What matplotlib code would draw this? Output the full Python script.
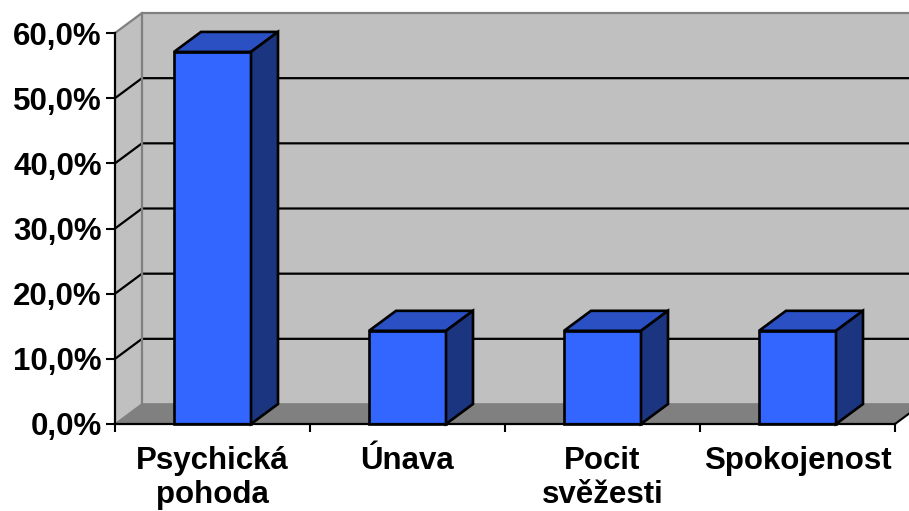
import numpy as np
import matplotlib
matplotlib.use('Agg')
import matplotlib.pyplot as plt
from matplotlib.patches import Polygon
from matplotlib.ticker import FuncFormatter

plt.rcParams['font.family'] = ['Liberation Sans', 'DejaVu Sans']
plt.rcParams['font.weight'] = 'bold'

kategorie = ['Psychická\npohoda', 'Únava', 'Pocit\nsvěžesti', 'Spokojenost']
hodnoty = [57.1, 14.3, 14.3, 14.3]          # procenta
y_ticky = [0, 10, 20, 30, 40, 50, 60]

# barvy ve stylu starého Excelu
c_predek = '#3366FF'
c_vrch = '#2A50C4'
c_bok = '#1C3580'
c_stena = '#C0C0C0'
c_podlaha = '#808080'
c_hrana = '#808080'

W, H = 909, 511
fig = plt.figure(figsize=(W / 100, H / 100), dpi=100)
x0, x1, y0, y1 = 115, 895, 424, 33
ax = fig.add_axes([x0 / W, 1 - y0 / H, (x1 - x0) / W, (y0 - y1) / H])
ax.set_xlim(0, 4)
ax.set_ylim(0, 60)
ax.patch.set_visible(False)

# hloubka 3D efektu v datovych jednotkach
dx = 27 / ((x1 - x0) / 4)
dy = 20 / ((y0 - y1) / 60)
xr = 4.5   # zadni stena jde az za okraj obrazku

# leva bocni stena
ax.add_patch(Polygon([(0, 0), (0, 60), (dx, 60 + dy), (dx, dy)], closed=True,
                     facecolor=c_stena, edgecolor='none', zorder=0.5, clip_on=False))
# zadni stena
ax.add_patch(Polygon([(dx, dy), (dx, 60 + dy), (xr, 60 + dy), (xr, dy)], closed=True,
                     facecolor=c_stena, edgecolor='none', zorder=0.5, clip_on=False))
# podlaha
ax.add_patch(Polygon([(0, 0), (4, 0), (4 + dx, dy), (dx, dy)], closed=True,
                     facecolor=c_podlaha, edgecolor='none', zorder=0.6, clip_on=False))

# mrizka na stenach
for v in y_ticky[1:-1]:
    ax.plot([0, dx, xr], [v, v + dy, v + dy], color='black', lw=1.6,
            zorder=1, clip_on=False, solid_capstyle='butt')

# hrany sten
ax.plot([0, dx, xr], [60, 60 + dy, 60 + dy], color=c_hrana, lw=1.6, zorder=1, clip_on=False)
ax.plot([dx, dx], [dy, 60 + dy], color=c_hrana, lw=1.6, zorder=1, clip_on=False)
ax.plot([0, dx, xr], [0, dy, dy], color=c_hrana, lw=1.2, zorder=1, clip_on=False)
ax.plot([4, 4 + dx], [0, dy], color='black', lw=1.5, zorder=1, clip_on=False)

# sloupce
sirka = 77 / ((x1 - x0) / 4)
for i, v in enumerate(hodnoty):
    l = i + 0.5 - sirka / 2
    r = i + 0.5 + sirka / 2
    kw = dict(closed=True, edgecolor='black', lw=1.9, joinstyle='miter',
              zorder=3, clip_on=False)
    ax.add_patch(Polygon([(l, 0), (l, v), (r, v), (r, 0)], facecolor=c_predek, **kw))
    ax.add_patch(Polygon([(l, v), (l + dx, v + dy), (r + dx, v + dy), (r, v)],
                         facecolor=c_vrch, **kw))
    ax.add_patch(Polygon([(r, 0), (r, v), (r + dx, v + dy), (r + dx, dy)],
                         facecolor=c_bok, **kw))

# osy
for s in ['top', 'right']:
    ax.spines[s].set_visible(False)
for s in ['left', 'bottom']:
    ax.spines[s].set_linewidth(1.6)
    ax.spines[s].set_zorder(4)

ax.set_yticks(y_ticky)
ax.yaxis.set_major_formatter(FuncFormatter(lambda v, p: f'{v:.1f}%'.replace('.', ',')))
ax.tick_params(axis='y', length=6.5, width=1.5, pad=3, labelsize=22.5)

ax.set_xticks([0, 1, 2, 3, 4])
ax.set_xticklabels([])
ax.set_xticks(np.arange(4) + 0.5, kategorie, minor=True)
ax.tick_params(axis='x', which='major', length=6, width=1.5)
ax.tick_params(axis='x', which='minor', length=0, pad=16, labelsize=22.5)
for t in ax.get_xticklabels(minor=True):
    t.set_linespacing(1.15)

fig.savefig('out.png', dpi=100)
